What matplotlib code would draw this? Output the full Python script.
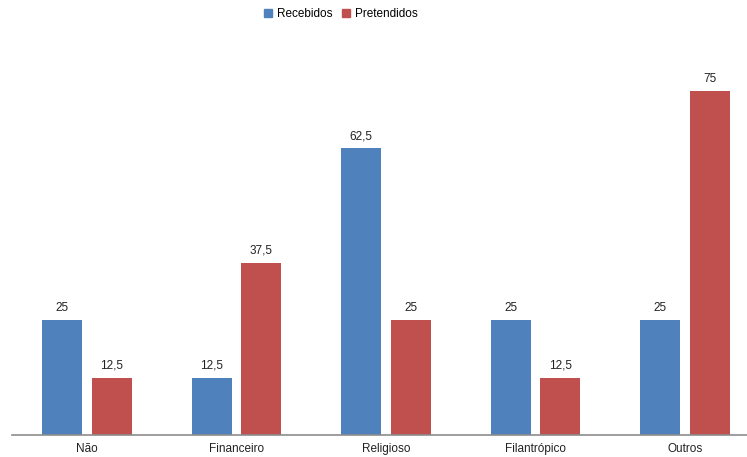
import matplotlib
matplotlib.use("Agg")
import matplotlib.pyplot as plt
import numpy as np
from matplotlib.patches import Patch

categories = ["Não", "Financeiro", "Religioso", "Filantrópico", "Outros"]
recebidos = [25, 12.5, 62.5, 25, 25]
pretendidos = [12.5, 37.5, 25, 12.5, 75]
series_names = ["Recebidos", "Pretendidos"]
colors = ["#4F81BD", "#C0504D"]

plt.rcParams["font.family"] = ["Liberation Sans", "DejaVu Sans"]

def fmt(v):
    s = f"{v:g}"
    return s.replace(".", ",")

W, H = 747, 457
fig = plt.figure(figsize=(W / 100, H / 100), dpi=100)
# category width ~149.5px, axes runs past the right edge like the original
left_px, base_px = 12.25, 435
ax = fig.add_axes([left_px / W, (H - base_px) / H, 747.5 / W, 367 / H])

x = np.arange(len(categories))
bw = 0.2676
off = 0.1672
for vals, name, c, d in [(recebidos, series_names[0], colors[0], -off),
                         (pretendidos, series_names[1], colors[1], off)]:
    bars = ax.bar(x + d, vals, width=bw, color=c, label=name, zorder=2)
    for b, v in zip(bars, vals):
        ax.annotate(fmt(v), (b.get_x() + b.get_width() / 2, v), xytext=(0, 4.5),
                    textcoords="offset points", ha="center", va="bottom",
                    fontsize=8.5, color="#222222")

ax.set_xlim(-0.5, len(categories) - 0.5)
ax.set_ylim(0, 80)
ax.set_yticks([])
ax.set_xticks(x)
ax.set_xticklabels(categories, fontsize=8.5, color="#222222")
ax.tick_params(axis="x", length=0, pad=6)
for s in ["top", "right", "left"]:
    ax.spines[s].set_visible(False)
ax.spines["bottom"].set_color("#8c8c8c")
ax.spines["bottom"].set_linewidth(1.2)

handles = [Patch(color=c, label=n) for c, n in zip(colors, series_names)]
fig.legend(handles=handles, loc="center", bbox_to_anchor=(341 / W, 1 - 14 / H),
           ncol=2, frameon=False, fontsize=8.5, handlelength=0.7, handleheight=0.7,
           handletextpad=0.4, columnspacing=0.8)

fig.savefig("out.png", dpi=100)
